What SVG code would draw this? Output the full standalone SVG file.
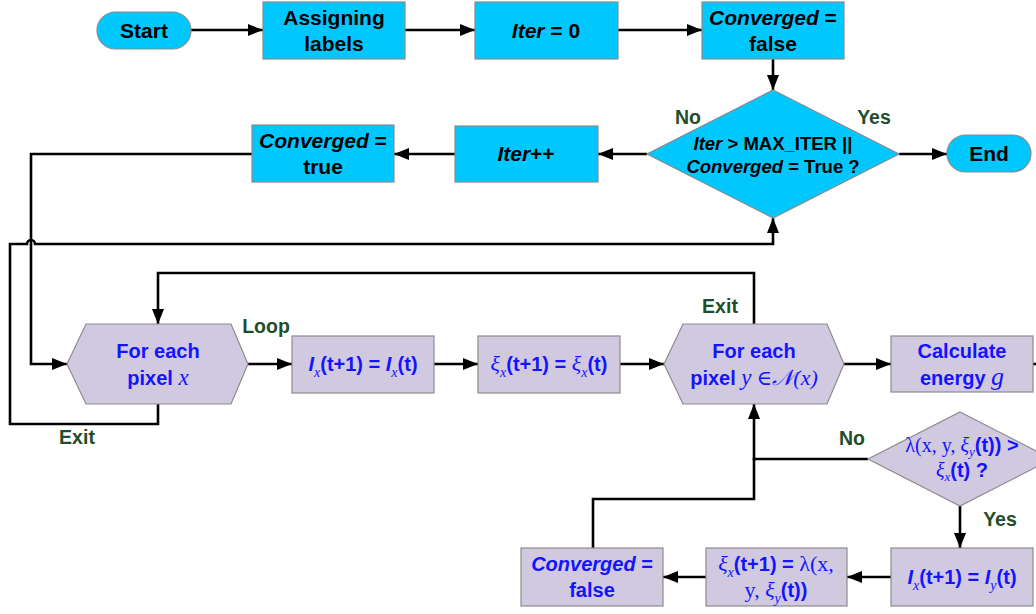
<svg xmlns="http://www.w3.org/2000/svg" width="1036" height="614" viewBox="0 0 1036 614">
<defs>
<marker id="ah" markerUnits="userSpaceOnUse" markerWidth="15" markerHeight="12" refX="15" refY="6" orient="auto">
<path d="M0,0 L15,6 L0,12 z" fill="#000"/>
</marker>
<style>
.cy{fill:#00c8ff;stroke:#8a8a8a;stroke-width:1.2}
.lv{fill:#d1c9e0;stroke:#8c8c8c;stroke-width:1.2}
.t{font-family:"Liberation Sans",Arial,sans-serif;font-weight:bold;font-size:21px;fill:#000;text-anchor:middle}
.d{font-family:"Liberation Sans",Arial,sans-serif;font-weight:bold;font-size:18.5px;fill:#000;text-anchor:middle}
.b{font-family:"Liberation Sans",Arial,sans-serif;font-weight:bold;font-size:20px;fill:#1414ff;text-anchor:middle}
.m{font-family:"Liberation Serif","DejaVu Serif",serif;font-style:italic;font-weight:normal}
.mr{font-family:"Liberation Serif","DejaVu Serif",serif;font-weight:normal}
.s{font-size:14px}
.lab{font-family:"Liberation Sans",Arial,sans-serif;font-weight:bold;font-size:19.5px;fill:#1f4e2b;text-anchor:middle}
.c{fill:none;stroke:#000;stroke-width:2.6}
.a{marker-end:url(#ah)}
</style>
</defs>
<g id="connectors">
<path class="c a" d="M191 30 H263"/>
<path class="c a" d="M405 30 H475"/>
<path class="c a" d="M618 30 H702"/>
<path class="c a" d="M773 59 V90"/>
<path class="c a" d="M899 154 H947"/>
<path class="c a" d="M647 154 H598"/>
<path class="c a" d="M455 154 H394"/>
<path class="c a" d="M252 154 H31 V364 H67"/>
<path class="c a" d="M158 404 V424 H10 V244 H27 A4 4 0 0 1 35 244 H773 V218"/>
<path class="c a" d="M754 324 V273 H158 V324"/>
<path class="c a" d="M248 364 H292"/>
<path class="c a" d="M434 364 H478"/>
<path class="c a" d="M620 364 H664"/>
<path class="c a" d="M844 364 H891"/>
<path class="c" d="M1033 364 H1040"/>
<path class="c a" d="M868 459 H754 V404"/>
<path class="c" d="M593 548 V499 H754 V458"/>
<path class="c a" d="M960 506 V548"/>
<path class="c a" d="M891 577 H847"/>
<path class="c a" d="M706 577 H663"/>
</g>
<g id="start"><rect class="cy" x="97" y="12" width="94" height="37" rx="18.5"/><text class="t" x="144" y="38">Start</text></g>
<g id="assign"><rect class="cy" x="263" y="2" width="142" height="57"/><text class="t" x="334" y="25">Assigning</text><text class="t" x="334" y="51">labels</text></g>
<g id="iter0"><rect class="cy" x="475" y="2" width="143" height="57"/><text class="t" x="546" y="38"><tspan font-style="italic">Iter</tspan> = 0</text></g>
<g id="convfalse1"><rect class="cy" x="702" y="2" width="142" height="57"/><text class="t" x="773" y="25"><tspan font-style="italic">Converged</tspan> =</text><text class="t" x="773" y="51">false</text></g>
<g id="check"><polygon class="cy" points="773,90 899,154 773,218 647,154"/><text class="d" x="773" y="150"><tspan font-style="italic">Iter</tspan> &gt; MAX_ITER ||</text><text class="d" x="773" y="173"><tspan font-style="italic">Converged</tspan> = True ?</text></g>
<g id="end"><rect class="cy" x="947" y="135" width="84" height="37" rx="18.5"/><text class="t" x="989" y="161">End</text></g>
<g id="iterpp"><rect class="cy" x="455" y="126" width="143" height="56"/><text class="t" x="526" y="161"><tspan font-style="italic">Iter</tspan>++</text></g>
<g id="convtrue"><rect class="cy" x="252" y="125" width="142" height="57"/><text class="t" x="323" y="148"><tspan font-style="italic">Converged</tspan> =</text><text class="t" x="323" y="174">true</text></g>
<g id="forx"><polygon class="lv" points="67,364 86,324 231,324 248,364 231,404 86,404"/><text class="b" x="158" y="358">For each</text><text class="b" x="158" y="385">pixel <tspan class="m" font-size="23">x</tspan></text></g>
<g id="lcopy"><rect class="lv" x="292" y="336" width="142" height="57"/><text class="b" x="363" y="371"><tspan font-style="italic">I</tspan><tspan class="m s" dy="6">x</tspan><tspan dy="-6">(t+1) = </tspan><tspan font-style="italic">I</tspan><tspan class="m s" dy="6">x</tspan><tspan dy="-6">(t)</tspan></text></g>
<g id="xicopy"><rect class="lv" x="478" y="336" width="142" height="57"/><text class="b" x="549" y="371"><tspan class="m" font-size="22">ξ</tspan><tspan class="m s" dy="6">x</tspan><tspan dy="-6">(t+1) = </tspan><tspan class="m" font-size="22">ξ</tspan><tspan class="m s" dy="6">x</tspan><tspan dy="-6">(t)</tspan></text></g>
<g id="fory"><polygon class="lv" points="664,364 683,324 827,324 844,364 827,404 683,404"/><text class="b" x="754" y="358">For each</text><text class="b" x="754" y="385">pixel <tspan class="m" font-size="23">y</tspan><tspan class="mr" font-size="21"> ∈</tspan><tspan class="m" font-size="22">𝒩(x)</tspan></text></g>
<g id="energy"><rect class="lv" x="891" y="336" width="142" height="56"/><text class="b" x="962" y="358">Calculate</text><text class="b" x="962" y="385">energy <tspan class="m" font-size="26">g</tspan></text></g>
<g id="cmp"><polygon class="lv" points="960,412 1052,459 960,506 868,459"/><text class="b" x="962" y="452" font-size="18"><tspan class="mr" font-size="20">λ(x, y, </tspan><tspan class="m" font-size="20">ξ</tspan><tspan class="m" font-size="13" dy="4">y</tspan><tspan dy="-4">(t)) &gt;</tspan></text><text class="b" x="962" y="477" font-size="18"><tspan class="m" font-size="20">ξ</tspan><tspan class="m" font-size="13" dy="4">x</tspan><tspan dy="-4">(t) ?</tspan></text></g>
<g id="lassign"><rect class="lv" x="891" y="548" width="142" height="58"/><text class="b" x="962" y="584"><tspan font-style="italic">I</tspan><tspan class="m s" dy="6">x</tspan><tspan dy="-6">(t+1) = </tspan><tspan font-style="italic">I</tspan><tspan class="m s" dy="6">y</tspan><tspan dy="-6">(t)</tspan></text></g>
<g id="xiassign"><rect class="lv" x="706" y="548" width="141" height="58"/><text class="b" x="776" y="571"><tspan class="m" font-size="22">ξ</tspan><tspan class="m s" dy="6">x</tspan><tspan dy="-6">(t+1) = </tspan><tspan class="mr" font-size="22">λ(x,</tspan></text><text class="b" x="776" y="597"><tspan class="mr" font-size="22">y, </tspan><tspan class="m" font-size="22">ξ</tspan><tspan class="m s" dy="6">y</tspan><tspan dy="-6">(t))</tspan></text></g>
<g id="convfalse2"><rect class="lv" x="521" y="548" width="142" height="58"/><text class="b" x="592" y="571"><tspan font-style="italic">Converged</tspan> =</text><text class="b" x="592" y="597">false</text></g>
<g id="labels">
<text class="lab" x="688" y="124">No</text>
<text class="lab" x="874" y="124">Yes</text>
<text class="lab" x="266" y="333">Loop</text>
<text class="lab" x="77" y="444">Exit</text>
<text class="lab" x="720" y="313">Exit</text>
<text class="lab" x="852" y="445">No</text>
<text class="lab" x="1000" y="526">Yes</text>
</g>
</svg>
